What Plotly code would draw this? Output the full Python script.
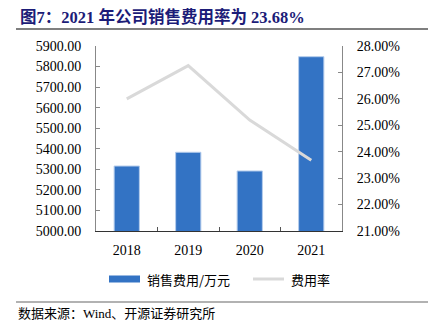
import plotly.graph_objects as go

years = ["2018", "2019", "2020", "2021"]
sales_expense = [5316, 5383, 5292, 5848]      # 销售费用/万元
expense_ratio = [26.00, 27.26, 25.20, 23.68]  # 费用率 (%)
left_ticks = [5000 + 100 * i for i in range(10)]
right_ticks = [21 + i for i in range(8)]

SERIF = "Liberation Serif, Times New Roman, Noto Sans CJK SC, serif"
CJK = "Noto Sans CJK SC, Liberation Serif, serif"

fig = go.Figure()
fig.add_trace(go.Bar(
    x=years, y=sales_expense, name="销售费用/万元",
    marker=dict(color="#3373C4", line=dict(color="#B4CCEC", width=1)),
    width=0.41, yaxis="y", showlegend=False,
))
fig.add_trace(go.Scatter(
    x=years, y=expense_ratio, name="费用率", mode="lines",
    line=dict(color="#D9D9D9", width=3), yaxis="y2", showlegend=False,
))

fig.update_layout(
    width=438, height=334,
    margin=dict(l=96, r=96, t=46, b=103),
    paper_bgcolor="white", plot_bgcolor="white",
    font=dict(family=SERIF, size=14, color="#000000"),
    xaxis=dict(
        type="category", showgrid=False, showline=True, linecolor="#333333", linewidth=1,
        ticks="inside", tickson="boundaries", ticklen=4, tickcolor="#555555",
        tickfont=dict(family=SERIF, size=14), zeroline=False, ticklabelstandoff=6,
    ),
    yaxis=dict(
        range=[5000, 5900], tickvals=left_ticks,
        ticktext=[f"{v:.2f}" for v in left_ticks],
        showgrid=False, showline=True, linecolor="#888888", linewidth=1,
        ticks="inside", ticklen=4, tickcolor="#888888", zeroline=False,
        tickfont=dict(family=SERIF, size=14), ticklabelstandoff=11,
    ),
    yaxis2=dict(
        range=[21, 28], tickvals=right_ticks,
        ticktext=[f"{v:.2f}%" for v in right_ticks],
        overlaying="y", side="right",
        showgrid=False, showline=True, linecolor="#888888", linewidth=1,
        ticks="inside", ticklen=4, tickcolor="#888888", zeroline=False,
        tickfont=dict(family=SERIF, size=14), ticklabelstandoff=11,
    ),
    showlegend=False,
)

# Title
fig.add_annotation(
    text="<b>图7：2021 年公司销售费用率为 23.68%</b>",
    xref="paper", yref="paper", x=-78 / 246, y=1 + 29 / 185,
    xanchor="left", yanchor="middle", showarrow=False,
    font=dict(family=SERIF, size=16.5, color="#1C1C78"),
)
# Header / footer rules
fig.add_shape(type="line", xref="paper", yref="paper",
              x0=-80 / 246, x1=1 + 86 / 246, y0=1 + 17 / 185, y1=1 + 17 / 185,
              line=dict(color="#555555", width=1.5))
fig.add_shape(type="line", xref="paper", yref="paper",
              x0=-80 / 246, x1=1 + 86 / 246, y0=-71 / 185, y1=-71 / 185,
              line=dict(color="#999999", width=1.5))
fig.add_annotation(
    text="数据来源：Wind、开源证券研究所",
    xref="paper", yref="paper", x=-80 / 246, y=-82 / 185,
    xanchor="left", yanchor="middle", showarrow=False,
    font=dict(family=SERIF, size=13, color="#000000"),
)

# Legend (manual)
ly = -48 / 185
fig.add_shape(type="rect", xref="paper", yref="paper",
              x0=13 / 246, x1=44 / 246, y0=ly - 3.5 / 185, y1=ly + 3.5 / 185,
              fillcolor="#3373C4", line=dict(width=0))
fig.add_annotation(text="销售费用/万元", xref="paper", yref="paper",
                   x=49 / 246, y=ly, xanchor="left", yanchor="middle", showarrow=False,
                   font=dict(family=CJK, size=13))
fig.add_shape(type="line", xref="paper", yref="paper",
              x0=157 / 246, x1=188 / 246, y0=ly, y1=ly,
              line=dict(color="#D9D9D9", width=3))
fig.add_annotation(text="费用率", xref="paper", yref="paper",
                   x=193 / 246, y=ly, xanchor="left", yanchor="middle", showarrow=False,
                   font=dict(family=CJK, size=13))

fig.write_html("out.html")
